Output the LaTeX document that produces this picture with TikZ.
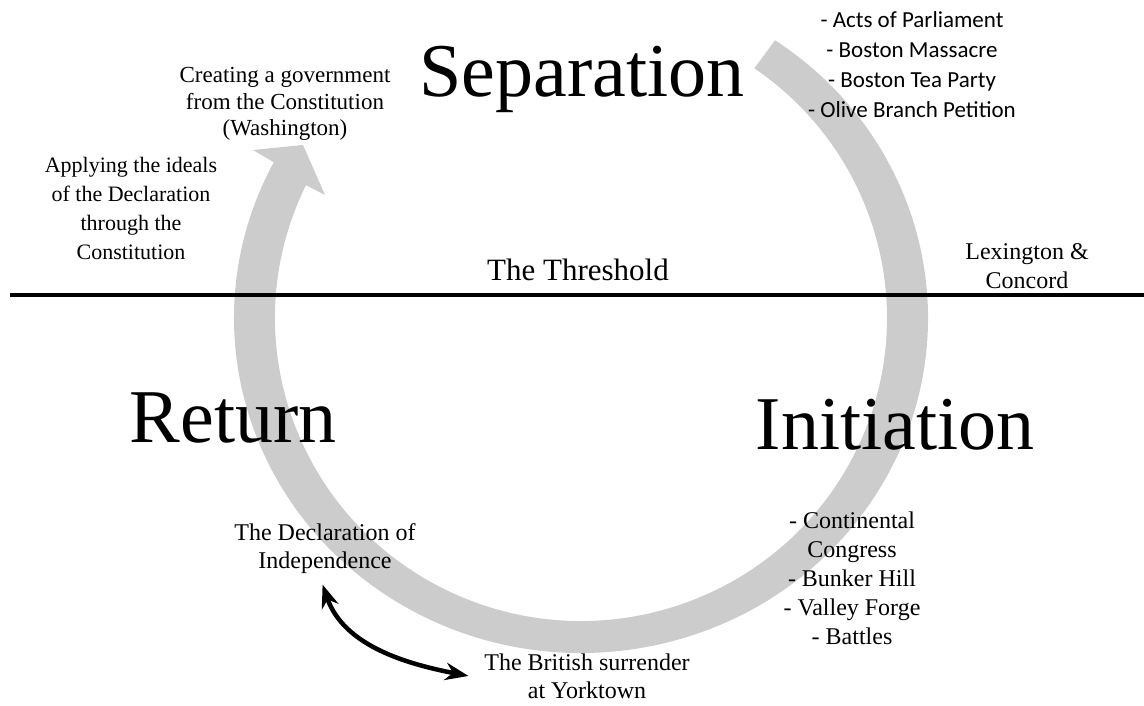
\documentclass[tikz,border=0pt]{standalone}
\usepackage{fontspec}
\setmainfont{Liberation Serif}
\newfontfamily\listfont{Carlito}
\usetikzlibrary {arrows.meta}
\usetikzlibrary {calc}

\begin{document}
\begin{tikzpicture}[>=Stealth, x=1pt, y=1pt,
        band/.style={fill=black!20},
        stage/.style={font=\fontsize{76}{80}\selectfont, inner sep=0pt, anchor=base},
        note/.style={font=\fontsize{24}{#1}\selectfont, align=center, inner sep=0pt},
        note/.default=28,
        events/.style={font=\listfont\fontsize{23}{30}\selectfont, align=center, inner sep=0pt}]
    \useasboundingbox (0, 0) rectangle (1144, 706);
    \coordinate (c) at (581, 388);
    \coordinate (tip) at (303, 561);
    \coordinate (barbL) at (253, 556);
    \coordinate (barbR) at (325, 511);
    \coordinate (lineL) at (10, 411);
    \coordinate (lineR) at (1144, 411);

    \fill[band] ($(c)+(56:347 and 335)$)
        arc[start angle=56, end angle=-207.7, x radius=347, y radius=335]
        -- (barbL) -- (tip) -- (barbR)
        -- ($(c)+(-206:306 and 303)$)
        arc[start angle=-206, end angle=55.5, x radius=306, y radius=303] -- cycle;

    \draw[line width=3.5pt] (lineL) -- (lineR);

    \node[stage] (separation) at (582, 609) {Separation};
    \node[stage] (return) at (233, 263) {Return};
    \node[stage] (initiation) at (895, 256) {Initiation};
    \node[font=\fontsize{31}{35}\selectfont, inner sep=0pt, anchor=base]
        (threshold) at (578, 425) {The Threshold};

    \node[note=26.5, font=\fontsize{23}{26.5}\selectfont] (create) at (285, 602) {Creating a government\\from the Constitution\\(Washington)};
    \node[note=29, font=\fontsize{22}{29}\selectfont] (apply) at (131, 498) {Applying the ideals\\of the Declaration\\through the\\Constitution};
    \node[note=29] (lexington) at (1027, 439.5) {Lexington \&\\Concord};
    \node[events] (acts) at (912, 641) {- Acts of Parliament\\- Boston Massacre\\- Boston Tea Party\\- Olive Branch Petition};
    \node[note=29] (battles) at (852, 128) {- Continental\\Congress\\- Bunker Hill\\- Valley Forge\\- Battles};
    \node[note] (declaration) at (325, 157) {The Declaration of\\Independence};
    \node[note] (surrender) at (587, 30) {The British surrender\\at Yorktown};

    \draw[<->, line width=4.5pt, shorten <=11pt, shorten >=16pt]
        ([xshift=-6pt]declaration.south) to[out=-71, in=169] ([yshift=-3pt]surrender.west);
\end{tikzpicture}
\end{document}
